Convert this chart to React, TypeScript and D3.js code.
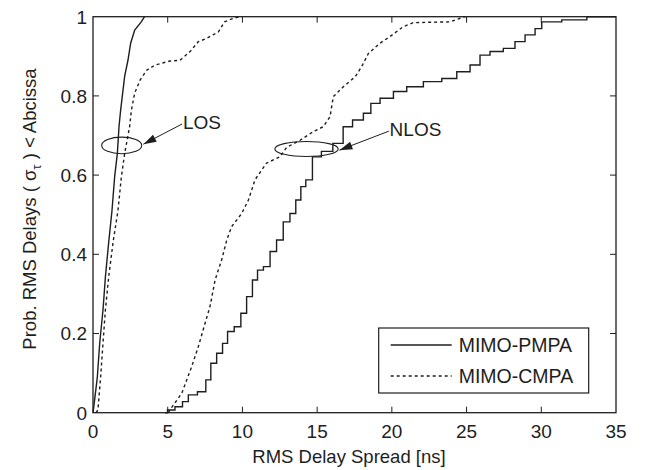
import { useEffect, useRef } from "react";
import * as d3 from "d3";

// RMS delay spread [ns] vs cumulative probability
const losPmpaX = [0, 0.1, 0.29, 0.45, 0.67, 0.83, 1.05, 1.27, 1.45, 1.63, 1.74, 1.85, 2.12, 2.34, 2.52, 2.79, 3.23, 3.45];
const losPmpaP = [0, 0.03, 0.09, 0.176, 0.26, 0.343, 0.43, 0.51, 0.596, 0.655, 0.722, 0.764, 0.85, 0.89, 0.933, 0.966, 0.987, 1];

const losCmpaX = [0.2, 0.33, 0.51, 0.67, 0.83, 1.05, 1.34, 1.67, 1.9, 2.12, 2.45, 2.57, 2.79, 3.15, 3.6, 4.15, 5.15, 5.82, 6.5, 7.05, 7.6, 8.4, 8.8, 9.4, 9.84];
const losCmpaP = [0, 0.007, 0.09, 0.176, 0.26, 0.343, 0.43, 0.51, 0.596, 0.655, 0.722, 0.764, 0.807, 0.84, 0.865, 0.878, 0.888, 0.89, 0.912, 0.937, 0.945, 0.962, 0.987, 0.996, 1];

const nlosPmpaX = [4.82, 5.15, 5.82, 6.16, 6.6, 7.38, 7.72, 8.05, 8.5, 8.84, 9.17, 9.73, 10.06, 10.5, 10.84, 11.18, 11.63, 12.07, 12.5, 12.96, 13.4, 13.74, 14.08, 14.4, 14.97, 15.6, 16.5, 16.98, 17.76, 18.43, 18.76, 19.66, 20.55, 21.44, 22.78, 23.9, 24.79, 25.68, 26.12, 27.02, 27.9, 28.58, 29.25, 29.92, 30.14, 32.6, 33.5, 35];
const nlosPmpaP = [0, 0.007, 0.015, 0.028, 0.045, 0.053, 0.083, 0.125, 0.15, 0.175, 0.205, 0.217, 0.251, 0.293, 0.335, 0.36, 0.369, 0.407, 0.436, 0.482, 0.503, 0.537, 0.571, 0.588, 0.646, 0.66, 0.68, 0.722, 0.739, 0.756, 0.781, 0.794, 0.811, 0.823, 0.836, 0.844, 0.861, 0.878, 0.903, 0.912, 0.92, 0.937, 0.954, 0.97, 0.987, 0.992, 1, 1];

const nlosCmpaX = [5.04, 5.15, 5.94, 6.6, 7.05, 7.5, 7.83, 8.17, 8.61, 8.95, 9.28, 9.95, 10.4, 10.84, 11.6, 12.5, 12.96, 13.86, 14.75, 15.4, 15.86, 16.08, 16.75, 17.54, 17.98, 18.43, 19.2, 19.88, 20.77, 21.44, 23.9, 24.57, 24.9];
const nlosCmpaP = [0, 0.007, 0.049, 0.116, 0.167, 0.226, 0.268, 0.335, 0.386, 0.436, 0.47, 0.503, 0.537, 0.588, 0.63, 0.646, 0.67, 0.688, 0.71, 0.722, 0.747, 0.798, 0.823, 0.848, 0.874, 0.907, 0.933, 0.95, 0.975, 0.985, 0.987, 0.996, 1];

const xTicks = [0, 5, 10, 15, 20, 25, 30, 35];
const yTicks = [0, 0.2, 0.4, 0.6, 0.8, 1];
const seriesNames = ["MIMO-PMPA", "MIMO-CMPA"];

const FONT = "'Liberation Sans', Arial, sans-serif";
const INK = "#1e1e1e";

const App = () => {
  const svgRef = useRef<SVGSVGElement>(null);

  useEffect(() => {
    const svg = d3.select(svgRef.current);
    svg.selectAll("*").remove();

    const margin = { top: 16.7, right: 38, bottom: 57.3, left: 93 };
    const W = 654;
    const H = 470;
    const width = W - margin.left - margin.right;
    const height = H - margin.top - margin.bottom;

    const x = d3.scaleLinear().domain([0, 35]).range([0, width]);
    const y = d3.scaleLinear().domain([0, 1]).range([height, 0]);

    const g = svg
      .append("g")
      .attr("transform", `translate(${margin.left},${margin.top})`);

    // curves first so the box sits on top
    const plot = g.append("g");
    const draw = (xs: number[], ps: number[], dashed: boolean, stepped: boolean) => {
      const l = d3
        .line<number>()
        .x((_, i) => x(xs[i]))
        .y((_, i) => y(ps[i]))
        .curve(stepped ? d3.curveStep : d3.curveLinear);
      plot
        .append("path")
        .attr("d", l(xs))
        .attr("fill", "none")
        .attr("stroke", INK)
        .attr("stroke-width", 1.4)
        .attr("stroke-dasharray", dashed ? "3,3" : null);
    };
    draw(losPmpaX, losPmpaP, false, false);
    draw(losCmpaX, losCmpaP, true, false);
    draw(nlosPmpaX, nlosPmpaP, false, true);
    draw(nlosCmpaX, nlosCmpaP, true, false);

    // box
    g.append("rect")
      .attr("width", width)
      .attr("height", height)
      .attr("fill", "none")
      .attr("stroke", INK)
      .attr("stroke-width", 1.3);

    // ticks, inward on all four sides
    const tl = 6;
    xTicks.slice(1, -1).forEach((t) => {
      g.append("line").attr("x1", x(t)).attr("x2", x(t)).attr("y1", height).attr("y2", height - tl).attr("stroke", INK);
      g.append("line").attr("x1", x(t)).attr("x2", x(t)).attr("y1", 0).attr("y2", tl).attr("stroke", INK);
    });
    yTicks.slice(1, -1).forEach((t) => {
      g.append("line").attr("x1", 0).attr("x2", tl).attr("y1", y(t)).attr("y2", y(t)).attr("stroke", INK);
      g.append("line").attr("x1", width).attr("x2", width - tl).attr("y1", y(t)).attr("y2", y(t)).attr("stroke", INK);
    });

    // tick labels
    g.selectAll(".xt")
      .data(xTicks)
      .enter()
      .append("text")
      .attr("x", (d) => x(d))
      .attr("y", height + 25)
      .attr("text-anchor", "middle")
      .style("font-family", FONT)
      .style("font-size", "19px")
      .attr("fill", INK)
      .text((d) => d);

    g.selectAll(".yt")
      .data(yTicks)
      .enter()
      .append("text")
      .attr("x", -6)
      .attr("y", (d) => y(d))
      .attr("dy", "0.36em")
      .attr("text-anchor", "end")
      .style("font-family", FONT)
      .style("font-size", "19px")
      .attr("fill", INK)
      .text((d) => d3.format("~g")(d));

    // axis labels
    svg
      .append("text")
      .attr("x", 349)
      .attr("y", 463)
      .attr("text-anchor", "middle")
      .style("font-family", FONT)
      .style("font-size", "18.5px")
      .attr("fill", INK)
      .text("RMS Delay Spread [ns]");

    const yl = svg
      .append("text")
      .attr("transform", "translate(36,209) rotate(-90)")
      .attr("text-anchor", "middle")
      .style("font-family", FONT)
      .style("font-size", "18.5px")
      .attr("fill", INK);
    yl.append("tspan").text("Prob. RMS Delays ( σ");
    yl.append("tspan").attr("dy", 5).style("font-size", "13px").text("τ");
    yl.append("tspan").attr("dy", -5).text(" ) < Abcissa");

    // annotations: ellipses, arrows, labels
    const annot = [
      { label: "LOS", cx: 1.92, cy: 0.675, rx: 1.34, ry: 0.021, tx: 6.02, ty: 0.733, ax: 5.96, ay: 0.729, hx: 3.37, hy: 0.678 },
      { label: "NLOS", cx: 14.29, cy: 0.666, rx: 2.12, ry: 0.019, tx: 19.85, ty: 0.716, ax: 19.8, ay: 0.711, hx: 16.49, hy: 0.663 },
    ];
    annot.forEach((a) => {
      g.append("ellipse")
        .attr("cx", x(a.cx))
        .attr("cy", y(a.cy))
        .attr("rx", x(a.rx) - x(0))
        .attr("ry", y(0) - y(a.ry))
        .attr("fill", "none")
        .attr("stroke", INK)
        .attr("stroke-width", 1.1);
      const x1 = x(a.ax), y1 = y(a.ay), x2 = x(a.hx), y2 = y(a.hy);
      g.append("line")
        .attr("x1", x1).attr("y1", y1).attr("x2", x2).attr("y2", y2)
        .attr("stroke", INK)
        .attr("stroke-width", 1);
      const ang = Math.atan2(y2 - y1, x2 - x1);
      const hl = 13, hw = 4;
      const bx = x2 - hl * Math.cos(ang), by = y2 - hl * Math.sin(ang);
      const px = -Math.sin(ang) * hw, py = Math.cos(ang) * hw;
      g.append("path")
        .attr("d", `M${x2},${y2}L${bx + px},${by + py}L${bx - px},${by - py}Z`)
        .attr("fill", INK);
      g.append("text")
        .attr("x", x(a.tx))
        .attr("y", y(a.ty))
        .attr("dy", "0.36em")
        .style("font-family", FONT)
        .style("font-size", "19px")
        .attr("fill", INK)
        .text(a.label);
    });

    // legend
    const lg = svg.append("g").attr("transform", "translate(378.7,328)");
    lg.append("rect")
      .attr("width", 210)
      .attr("height", 65)
      .attr("fill", "#fff")
      .attr("stroke", INK)
      .attr("stroke-width", 1.2);
    seriesNames.forEach((name, i) => {
      const ly = 17 + i * 31;
      lg.append("line")
        .attr("x1", 12).attr("x2", 73).attr("y1", ly).attr("y2", ly)
        .attr("stroke", INK)
        .attr("stroke-width", 1.3)
        .attr("stroke-dasharray", i === 1 ? "3,3" : null);
      lg.append("text")
        .attr("x", 80)
        .attr("y", ly)
        .attr("dy", "0.36em")
        .style("font-family", FONT)
        .style("font-size", "19.5px")
        .attr("fill", INK)
        .text(name);
    });
  }, []);

  return (
    <svg
      ref={svgRef}
      width={654}
      height={470}
      style={{ position: "absolute", left: 0, top: 0, background: "#fff" }}
    ></svg>
  );
};

export default App;
